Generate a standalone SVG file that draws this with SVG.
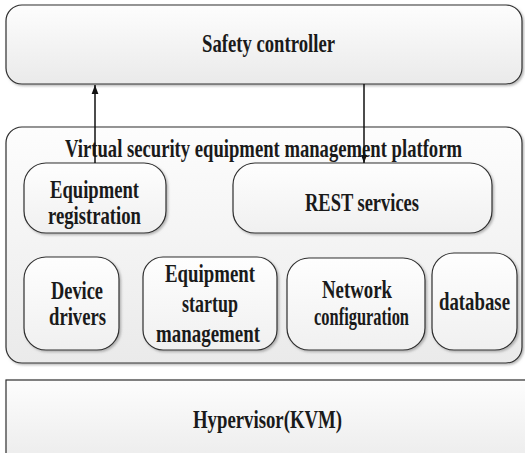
<svg xmlns="http://www.w3.org/2000/svg" width="525" height="453" viewBox="0 0 525 453">
  <style>
    .box { stroke: #2e2e2e; stroke-width: 1.2; filter: url(#shadow); }
    .outer { fill: url(#gradOuter); }
    .inner { fill: url(#gradInner); }
    .label { font-family: "Liberation Serif", "Times New Roman", serif; font-weight: bold; font-size: 25px; fill: #1a1a1a; }
    .wire { stroke: #111; stroke-width: 1.5; fill: none; }
  </style>
  <defs>
    <linearGradient id="gradOuter" x1="0" y1="0" x2="0" y2="1">
      <stop offset="0" stop-color="#fdfdfd"/>
      <stop offset="1" stop-color="#eaeaea"/>
    </linearGradient>
    <linearGradient id="gradInner" x1="0" y1="0" x2="0" y2="1">
      <stop offset="0" stop-color="#fefefe"/>
      <stop offset="1" stop-color="#f0f0f0"/>
    </linearGradient>
    <filter id="shadow" x="-5%" y="-5%" width="110%" height="115%">
      <feDropShadow dx="1.5" dy="1.5" stdDeviation="0.8" flood-color="#777" flood-opacity="0.55"/>
    </filter>
    <marker id="arrowLg" markerUnits="userSpaceOnUse" markerWidth="9" markerHeight="13" refX="12" refY="4.5" orient="auto" viewBox="0 0 12 9">
      <path d="M0,0 L12,4.5 L0,9 Z" fill="#111"/>
    </marker>
    <marker id="arrowSm" markerUnits="userSpaceOnUse" markerWidth="8" markerHeight="6" refX="8" refY="3" orient="auto" viewBox="0 0 8 6">
      <path d="M0,0 L8,3 L0,6 Z" fill="#111"/>
    </marker>
  </defs>

  <!-- top layer -->
  <g id="safety-controller">
    <rect class="box outer" x="6" y="5" width="516" height="79" rx="16" ry="16"/>
    <text class="label" x="202" y="52" textLength="133" lengthAdjust="spacingAndGlyphs">Safety controller</text>
  </g>

  <!-- management platform and its modules -->
  <g id="platform">
    <rect class="box outer" x="6" y="127" width="516" height="236" rx="16" ry="16"/>
    <text class="label" x="65" y="157" textLength="397" lengthAdjust="spacingAndGlyphs">Virtual security equipment management platform</text>
  </g>

  <g id="equipment-registration">
    <rect class="box inner" x="24" y="163" width="142" height="70" rx="22" ry="22"/>
    <text class="label" x="50" y="198" textLength="89" lengthAdjust="spacingAndGlyphs">Equipment</text>
    <text class="label" x="48" y="224" textLength="93" lengthAdjust="spacingAndGlyphs">registration</text>
  </g>

  <g id="rest-services">
    <rect class="box inner" x="233" y="163" width="259" height="70" rx="22" ry="22"/>
    <text class="label" x="305" y="211" textLength="114" lengthAdjust="spacingAndGlyphs">REST services</text>
  </g>

  <g id="device-drivers">
    <rect class="box inner" x="24" y="257" width="95" height="93" rx="22" ry="22"/>
    <text class="label" x="51" y="299" textLength="52" lengthAdjust="spacingAndGlyphs">Device</text>
    <text class="label" x="49" y="325" textLength="57" lengthAdjust="spacingAndGlyphs">drivers</text>
  </g>

  <g id="equipment-startup">
    <rect class="box inner" x="143" y="257" width="134" height="93" rx="20" ry="20"/>
    <text class="label" x="165" y="282" textLength="90" lengthAdjust="spacingAndGlyphs">Equipment</text>
    <text class="label" x="182" y="312" textLength="56" lengthAdjust="spacingAndGlyphs">startup</text>
    <text class="label" x="156" y="342" textLength="104" lengthAdjust="spacingAndGlyphs">management</text>
  </g>

  <g id="network-configuration">
    <rect class="box inner" x="287" y="258" width="138" height="92" rx="22" ry="22"/>
    <text class="label" x="322" y="298" textLength="70" lengthAdjust="spacingAndGlyphs">Network</text>
    <text class="label" x="314" y="325" textLength="95" lengthAdjust="spacingAndGlyphs">configuration</text>
  </g>

  <g id="database">
    <rect class="box inner" x="432" y="253" width="85" height="97" rx="22" ry="22"/>
    <text class="label" x="439" y="310" textLength="71" lengthAdjust="spacingAndGlyphs">database</text>
  </g>

  <!-- bottom layer -->
  <g id="hypervisor">
    <rect class="box outer" x="6" y="380" width="540" height="90"/>
    <text class="label" x="193" y="428" textLength="149" lengthAdjust="spacingAndGlyphs">Hypervisor(KVM)</text>
  </g>

  <g id="connectors">
    <line class="wire" x1="95" y1="163" x2="95" y2="85" marker-end="url(#arrowLg)"/>
    <line class="wire" x1="364" y1="84" x2="364" y2="163" marker-end="url(#arrowSm)"/>
  </g>
</svg>
